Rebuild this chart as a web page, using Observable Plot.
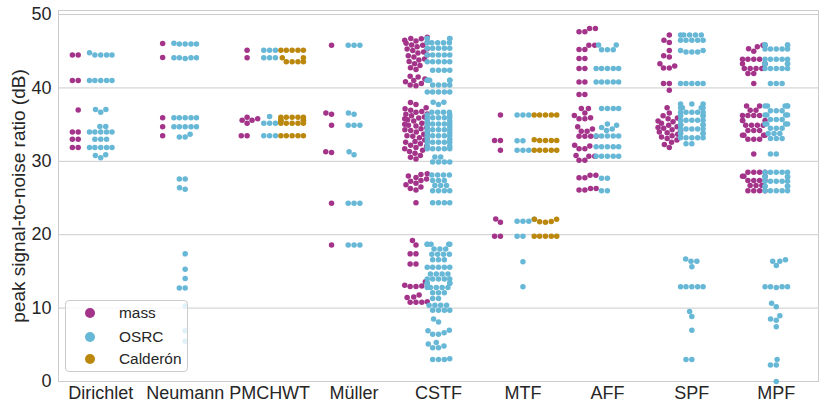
<!DOCTYPE html>
<html><head><meta charset="utf-8">
<script src="https://cdn.jsdelivr.net/npm/d3@7"></script>
<script src="https://cdn.jsdelivr.net/npm/@observablehq/plot@0.6"></script>
<style>
body{margin:0;background:#fff;font-family:"Liberation Sans",Arial,sans-serif;}
#wrap{position:relative;width:830px;height:414px;}
.legend{position:absolute;left:65px;top:300px;width:123px;height:72px;box-sizing:border-box;border:1px solid #cccccc;border-radius:4px;background:rgba(255,255,255,0.8);}
.item{position:absolute;left:53px;font-size:15.4px;color:#262626;line-height:18px;height:18px;white-space:nowrap}
.sw{position:absolute;left:18.7px;width:10px;height:10px;border-radius:50%}
</style></head>
<body><div id="wrap"></div>
<script>
const categories = ["Dirichlet","Neumann","PMCHWT","Müller","CSTF","MTF","AFF","SPF","MPF"];
const hues = ["mass","OSRC","Calderón"];
const colors = ["#a3348a","#67b7d6","#bb880d"];
const yTicks = [0,10,20,30,40,50];

const dirichletMass = [44.5,44.5,41.0,41.0,37.0,34.0,34.0,33.0,33.0,31.9,31.9];
const dirichletOSRC = [44.8,44.5,44.5,44.5,44.5,41.0,41.0,41.0,41.0,41.0,37.05,36.7,37.05,34.75,34.75,34.0,34.0,34.0,34.0,34.0,33.0,33.0,33.0,31.9,31.9,31.9,31.9,31.9,30.8,30.5,30.9];
const neumannMass = [46.05,44.15,35.95,34.7,33.5];
const neumannOSRC = [46.0,46.0,46.0,46.1,46.0,44.1,44.1,44.1,44.1,44.0,35.95,35.95,35.95,35.95,35.95,34.7,34.7,34.7,34.7,34.7,33.3,33.3,33.7,27.6,27.6,26.4,26.2,17.4,15.3,14.05,12.75,12.75,10.3,6.9,5.5];
const pmchwtMass = [45.15,44.1,36.0,35.8,35.6,35.6,35.2,33.5,33.5];
const pmchwtOSRC = [45.15,45.15,45.15,44.1,44.1,44.1,36.1,35.5,35.2,35.2,35.2,33.5,33.5,33.5];
const pmchwtCalderon = [45.15,45.15,45.15,45.15,45.15,44.1,44.1,43.55,43.55,43.55,43.55,36.0,36.0,36.0,36.0,36.0,35.6,35.6,35.6,35.6,35.2,35.2,35.2,35.2,35.2,33.5,33.5,33.5,33.5,33.5];
const mullerMass = [45.8,36.6,36.4,34.9,31.3,31.2,24.3,18.6];
const mullerOSRC = [45.8,45.8,45.8,36.6,36.4,34.9,34.9,34.9,31.3,30.9,24.3,24.3,24.3,18.6,18.6,18.6];
const cstfMass = [46.9,46.75,46.7,46.5,46.4,46.2,46.1,45.85,45.8,45.6,45.35,45.3,45.1,44.9,44.75,44.5,44.4,44.2,43.95,43.8,43.6,43.3,43.05,42.75,42.5,
  41.6,41.5,41.2,41.0,40.85,40.6,40.4,40.3,
  38.0,37.75,37.3,37.15,36.95,36.8,36.7,36.45,36.4,36.2,36.05,35.9,35.8,35.65,35.5,35.3,35.2,35.05,34.9,34.8,34.6,34.45,34.3,34.2,34.0,33.85,33.7,33.5,33.4,33.2,33.05,32.9,32.7,32.6,32.4,32.2,32.05,31.9,31.7,31.5,31.35,31.1,30.8,30.55,30.3,
  28.3,28.2,28.0,27.8,27.6,27.4,27.3,27.0,26.8,26.5,26.3,26.1,
  24.35,
  19.2,18.6,17.4,17.4,16.0,16.0,13.6,13.0,12.95,12.95,13.1,11.8,11.45,11.5,10.8,10.8,10.8,10.85];
const cstfOSRC = [46.75,46.75,46.75,46.75,46.15,46.15,46.15,46.15,46.15,45.4,45.4,45.4,45.4,45.4,44.5,44.5,44.5,44.5,44.5,43.55,43.55,43.55,43.55,43.55,42.4,42.4,42.4,42.4,
  41.05,41.05,41.05,41.05,41.05,40.4,40.4,40.4,40.4,39.45,39.45,39.45,39.45,39.45,
  38.05,37.75,38.05,36.7,36.7,36.7,36.7,36.3,36.3,35.95,35.95,35.95,35.95,35.95,35.5,35.5,35.1,35.1,35.1,35.1,35.1,34.7,34.7,34.3,34.3,34.3,34.3,34.3,33.9,33.9,33.5,33.5,33.5,33.5,33.5,33.0,33.0,32.6,32.6,32.6,32.6,32.6,32.1,32.1,31.7,31.7,31.7,31.7,31.7,30.6,30.6,29.9,29.9,29.9,29.9,
  28.15,28.15,28.15,28.15,27.4,27.4,27.4,26.7,26.7,26.7,26.0,26.0,26.0,26.0,
  24.35,24.35,24.35,24.35,
  18.7,18.7,18.7,18.7,18.7,18.05,18.05,18.05,17.35,17.35,17.35,17.35,16.6,16.6,16.6,
  15.55,15.55,15.55,15.55,15.55,14.65,14.65,14.65,14.65,13.95,13.95,13.95,13.95,13.95,13.4,13.4,13.4,13.4,12.8,12.8,12.8,12.8,12.8,12.1,12.1,12.1,
  11.3,11.3,10.4,10.4,10.4,10.4,9.7,9.7,9.7,9.7,8.5,8.1,6.9,6.45,6.45,6.65,7.0,5.1,4.6,4.6,4.85,5.3,3.0,3.0,3.0,3.1];
const mtfMass = [36.3,32.85,32.85,31.5,22.15,21.7,19.8,19.8];
const mtfOSRC = [36.3,36.3,36.3,32.8,32.8,31.5,31.5,31.5,22.1,21.85,21.85,21.85,19.8,19.8,16.3,12.9];
const mtfCalderon = [36.3,36.3,36.3,36.3,36.3,32.85,32.85,32.85,32.85,32.95,31.5,31.5,31.5,31.5,31.5,22.1,21.75,21.7,21.8,22.1,19.8,19.8,19.8,19.8,19.8];
const affMass = [48.1,48.1,47.65,47.65,45.8,45.8,45.25,45.25,44.0,44.0,42.65,42.65,40.8,40.8,39.1,39.1,37.2,37.2,36.6,36.25,35.95,35.8,35.8,34.7,34.4,34.1,34.1,33.4,33.4,33.4,33.4,32.2,32.1,31.7,31.7,30.8,30.7,30.7,30.15,30.15,28.1,28.1,27.75,27.75,26.3,26.3,26.1,26.1];
const affOSRC = [45.85,45.2,45.2,45.2,45.85,42.65,42.65,42.65,42.65,42.65,40.8,40.8,40.8,40.8,40.8,37.2,37.2,37.2,37.2,35.1,34.9,34.6,34.4,34.2,33.45,33.45,33.45,33.45,33.45,32.0,32.0,32.0,32.0,32.0,30.7,30.7,30.7,30.7,30.7,27.7,27.7,26.0,26.0];
const spfMass = [47.2,46.5,46.2,45.1,44.4,44.2,43.3,43.0,42.7,42.7,40.6,40.6,39.7,
  37.3,36.6,36.2,35.9,35.8,35.5,35.4,35.2,35.0,34.9,34.7,34.6,34.5,34.3,34.2,34.0,33.9,33.7,33.5,33.3,33.1,32.9,32.6,32.3,31.9];
const spfOSRC = [47.2,47.2,47.2,47.2,47.2,46.5,46.5,46.5,46.5,46.5,45.1,44.9,44.9,44.9,45.1,40.6,40.6,40.6,40.6,40.6,
  37.8,37.8,37.8,37.3,37.3,37.3,37.3,36.7,36.7,36.7,36.7,36.7,36.2,36.2,36.2,36.2,35.6,35.6,35.6,35.6,35.6,35.0,35.0,35.0,35.0,34.4,34.4,34.4,34.4,34.4,33.8,33.8,33.8,33.8,33.2,33.2,33.2,33.2,33.2,32.4,32.4,
  16.4,15.65,16.4,16.7,12.9,12.9,12.9,12.9,12.9,9.55,8.85,7.0,3.0,3.0];
const mpfMass = [45.8,45.6,45.35,45.0,43.9,43.9,43.9,43.9,43.3,43.3,43.3,42.65,42.65,42.65,42.65,41.95,41.95,40.6,
  37.55,37.55,36.95,36.95,36.25,36.25,36.25,36.25,35.55,35.55,35.55,34.9,34.9,34.9,34.9,34.2,34.2,34.2,33.55,33.55,33.55,33.55,33.0,33.0,33.0,31.0,
  28.5,28.5,28.5,28.5,27.95,27.95,27.95,27.4,27.4,27.4,27.4,26.7,26.7,26.7,26.0,26.0,26.0,26.0];
const mpfOSRC = [45.85,45.85,45.85,45.85,45.85,45.3,45.3,45.3,45.3,45.3,43.9,43.9,43.9,43.9,43.9,43.3,43.3,43.3,43.3,42.65,42.65,42.65,42.65,42.65,40.6,40.6,40.6,
  37.55,37.55,37.55,37.55,37.55,36.9,36.9,36.9,36.3,36.3,36.3,36.3,35.7,35.7,35.7,35.1,35.1,35.1,35.1,34.5,34.5,34.5,33.8,33.8,33.8,33.1,33.1,33.1,31.0,31.0,
  28.5,28.5,28.5,28.5,28.5,27.9,27.9,27.9,27.9,27.3,27.3,27.3,27.3,27.3,26.6,26.6,26.6,26.6,26.0,26.0,26.0,26.0,26.0,
  16.4,15.8,16.4,16.6,12.9,12.9,12.9,12.9,12.8,10.65,10.2,8.95,8.5,8.35,7.45,3.0,2.25,2.25,0.0];

const groups = [
  ["Dirichlet","mass",dirichletMass],["Dirichlet","OSRC",dirichletOSRC],
  ["Neumann","mass",neumannMass],["Neumann","OSRC",neumannOSRC],
  ["PMCHWT","mass",pmchwtMass],["PMCHWT","OSRC",pmchwtOSRC],["PMCHWT","Calderón",pmchwtCalderon],
  ["Müller","mass",mullerMass],["Müller","OSRC",mullerOSRC],
  ["CSTF","mass",cstfMass],["CSTF","OSRC",cstfOSRC],
  ["MTF","mass",mtfMass],["MTF","OSRC",mtfOSRC],["MTF","Calderón",mtfCalderon],
  ["AFF","mass",affMass],["AFF","OSRC",affOSRC],
  ["SPF","mass",spfMass],["SPF","OSRC",spfOSRC],
  ["MPF","mass",mpfMass],["MPF","OSRC",mpfOSRC]
];

// layout
const W = 830, H = 414, mL = 58, mR = 12, mT = 10, mB = 33;
const yMax = 50.55;
const pxPerDb = (H - mT - mB) / yMax;
const pxPerCat = (W - mL - mR) / categories.length;
const R = 2.78;
const band = 0.8 / hues.length;

// seaborn-like beeswarm (pixel space), then gutter clamp
function swarm(values) {
  const d = 2 * R, half = band / 2 * pxPerCat;
  const pts = values.map(v => ({v, y: v * pxPerDb})).sort((a, b) => a.y - b.y);
  const placed = [];
  for (const p of pts) {
    const nb = [];
    for (let k = placed.length - 1; k >= 0; k--) {
      const q = placed[k];
      if (p.y - q.y < d) nb.push(q); else break;
    }
    let x = 0;
    if (nb.length) {
      const c = [0]; let leftFirst = true;
      for (const q of nb) {
        const dy = p.y - q.y;
        const dx = Math.sqrt(Math.max(d * d - dy * dy, 0)) * 1.05;
        if (leftFirst) c.push(q.x - dx, q.x + dx); else c.push(q.x + dx, q.x - dx);
        leftFirst = !leftFirst;
      }
      const s = c.map((v, j) => ({v, j})).sort((a, b) => (Math.abs(a.v) - Math.abs(b.v)) || (a.j - b.j));
      x = null;
      for (const {v} of s) {
        if (nb.every(q => (q.x - v) ** 2 + (q.y - p.y) ** 2 >= d * d - 1e-9)) { x = v; break; }
      }
      if (x === null) x = s[0].v;
    }
    p.x = x; placed.push(p);
  }
  return pts.map(p => ({v: p.v, dx: Math.max(-half, Math.min(half, p.x))}));
}

const rows = [];
for (const [cat, hue, vals] of groups) {
  const ci = categories.indexOf(cat), hi = hues.indexOf(hue);
  const center = ci + (hi - (hues.length - 1) / 2) * band;
  for (const {v, dx} of swarm(vals)) rows.push({cat, hue, value: v, x: center + dx / pxPerCat});
}

const font = '"Liberation Sans", Arial, sans-serif';
const chart = Plot.plot({
  width: W, height: H,
  marginLeft: mL, marginRight: mR, marginTop: mT, marginBottom: mB,
  style: {fontFamily: font, color: "#262626", background: "white", overflow: "visible"},
  x: {domain: [-0.5, categories.length - 0.5], axis: null},
  y: {domain: [0, yMax], axis: null},
  color: {domain: hues, range: colors},
  marks: [
    Plot.gridY(yTicks, {stroke: "#cccccc", strokeOpacity: 1, strokeWidth: 1}),
    Plot.frame({stroke: "#cccccc", strokeWidth: 1}),
    Plot.dot(rows, {x: "x", y: "value", fill: "hue", r: 2.75}),
    Plot.axisX(d3.range(categories.length), {tickFormat: i => categories[i], tickSize: 0, tickPadding: 5, fontSize: 18, label: null}),
    Plot.axisY(yTicks, {tickSize: 0, tickPadding: 7, fontSize: 18, label: null}),
    Plot.text(["peak signal-to-noise ratio (dB)"], {frameAnchor: "left", dx: -40, rotate: -90, textAnchor: "middle", fontSize: 19})
  ]
});
const wrap = document.getElementById("wrap");
wrap.appendChild(chart);

const leg = document.createElement("div");
leg.className = "legend";
const ys = [13.3, 36.7, 59.3];
hues.forEach((h, i) => {
  const sw = document.createElement("div");
  sw.className = "sw"; sw.style.background = colors[i]; sw.style.top = (ys[i] - 5 - 1) + "px";
  const t = document.createElement("div");
  t.className = "item"; t.textContent = h; t.style.top = (ys[i] - 9 - 1) + "px";
  leg.appendChild(sw); leg.appendChild(t);
});
wrap.appendChild(leg);
</script></body></html>
